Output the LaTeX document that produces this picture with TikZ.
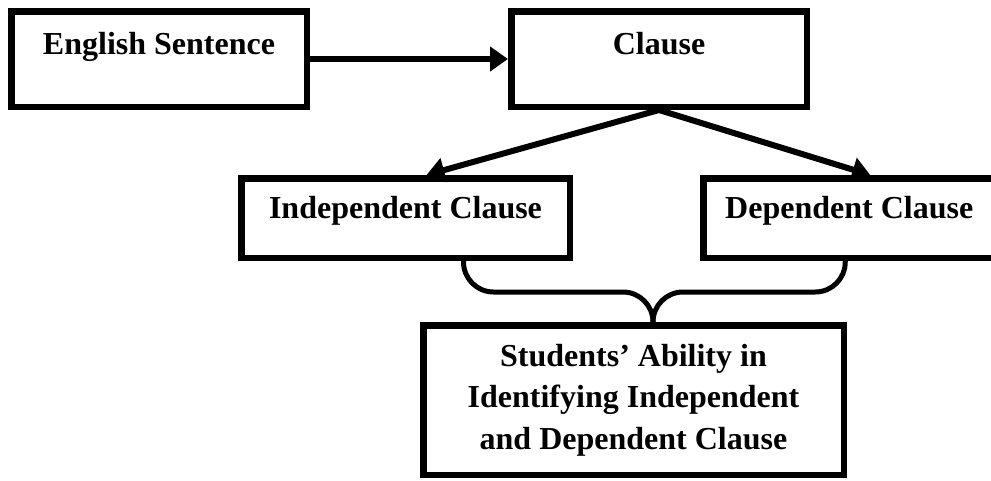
\documentclass[tikz,border=0pt]{standalone}
\usepackage{fontspec}
\setmainfont{Liberation Serif}
\usetikzlibrary{arrows.meta}

\begin{document}
\begin{tikzpicture}[x=1pt, y=1pt, >={Triangle[length=18pt,width=24pt]},
  box/.style={draw, line width=6.5pt, inner xsep=0pt, inner ysep=0pt,
    align=center, font=\bfseries\fontsize{32}{41.5}\selectfont},
  link/.style={->, line width=6pt}]

\useasboundingbox (0,0) rectangle (991,-480);

\node [box, minimum width=295.5, text height=42.75, text depth=52.75]
  (sentence) at (159,-59) {English Sentence};
\node [box, minimum width=295.5, text height=42.75, text depth=52.75]
  (clause) at (659,-59) {Clause};

\node [box, minimum width=328.5, text height=39.75, text depth=39.75]
  (indep) at (405.5,-218) {Independent Clause};
\node [box, minimum width=292, text height=39.75, text depth=39.75]
  (dep) at (849.25,-218) {Dependent Clause};

\node [box, minimum width=420.5, minimum height=149.5]
  (ability) at (633.5,-400) {Students’ Ability in\\ Identifying Independent\\ and Dependent Clause};

\draw [link] (sentence.east) -- (clause.west);

\foreach \n in {indep,dep}
  \draw [link] (clause.south) -- ([xshift=21pt]\n.north);

% the brace under both clauses
\coordinate (brace-l) at ([xshift=58pt]indep.south);
\coordinate (brace-r) at ([xshift=-4pt]dep.south);
\coordinate (brace-tip) at ([xshift=19.5pt]ability.north);

\foreach \s in {brace-l,brace-r}
  \draw [line width=5pt, rounded corners=30pt]
    (\s) |- ([yshift=30pt]brace-tip) -- (brace-tip);

\end{tikzpicture}
\end{document}
